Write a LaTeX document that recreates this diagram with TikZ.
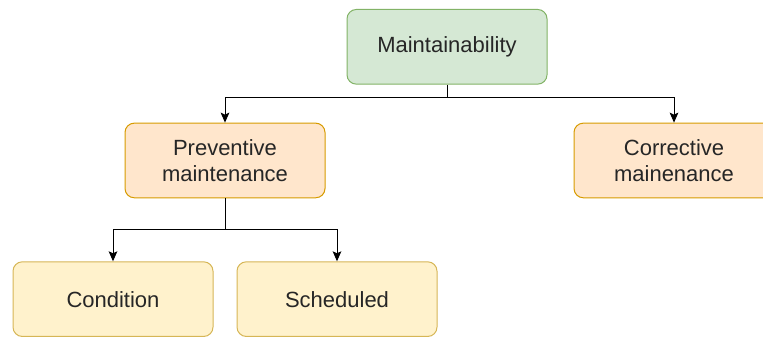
\documentclass[tikz,border=0pt]{standalone}
\usepackage{fontspec}
\setmainfont{Liberation Sans}
\usepackage{tikz}
\usetikzlibrary{arrows.meta, positioning, calc}

\definecolor{greenfill}{HTML}{D5E8D4}
\definecolor{greenline}{HTML}{82B366}
\definecolor{orangefill}{HTML}{FFE6CC}
\definecolor{orangeline}{HTML}{D79B00}
\definecolor{yellowfill}{HTML}{FFF2CC}
\definecolor{yellowline}{HTML}{D6B656}

\tikzstyle{box} = [rectangle, rounded corners=7pt, minimum width=150pt, minimum height=56pt, text centered, align=center, line width=0.75pt, text=black!85, font=\fontsize{16.5}{19.5}\selectfont]
\tikzstyle{root} = [box, draw=greenline, fill=greenfill]
\tikzstyle{kind} = [box, draw=orangeline, fill=orangefill]
\tikzstyle{leaf} = [box, draw=yellowline, fill=yellowfill]
\tikzstyle{arrow} = [line width=0.75pt, -{Stealth[length=7.5pt, width=6.5pt, inset=1.5pt]}]

\begin{document}
\begin{tikzpicture}
\useasboundingbox (0,0) rectangle (572.25pt,-252pt);

% Top
\node (maint) [root] at (335.25pt,-35.1pt) {Maintainability};

% Maintenance kinds
\node (prev) [kind, below=28.5pt of maint, xshift=-166.5pt] {Preventive\\maintenance};
\node (corr) [kind, below=28.5pt of maint, xshift=170.25pt] {Corrective\\mainenance};

% Preventive kinds
\node (cond) [leaf, below=47.25pt of prev, xshift=-84pt] {Condition};
\node (sched) [leaf, below=47.25pt of prev, xshift=84pt] {Scheduled};

% Junctions
\coordinate (split1) at ($(maint.south)+(0,-9.75pt)$);
\coordinate (split2) at ($(prev.south)+(0,-23.5pt)$);

% Connections
\draw [line width=0.75pt] (maint.south) -- (split1);
\draw [arrow] (split1) -| (prev.north);
\draw [arrow] (split1) -| (corr.north);
\draw [line width=0.75pt] (prev.south) -- (split2);
\draw [arrow] (split2) -| (cond.north);
\draw [arrow] (split2) -| (sched.north);

\end{tikzpicture}
\end{document}
